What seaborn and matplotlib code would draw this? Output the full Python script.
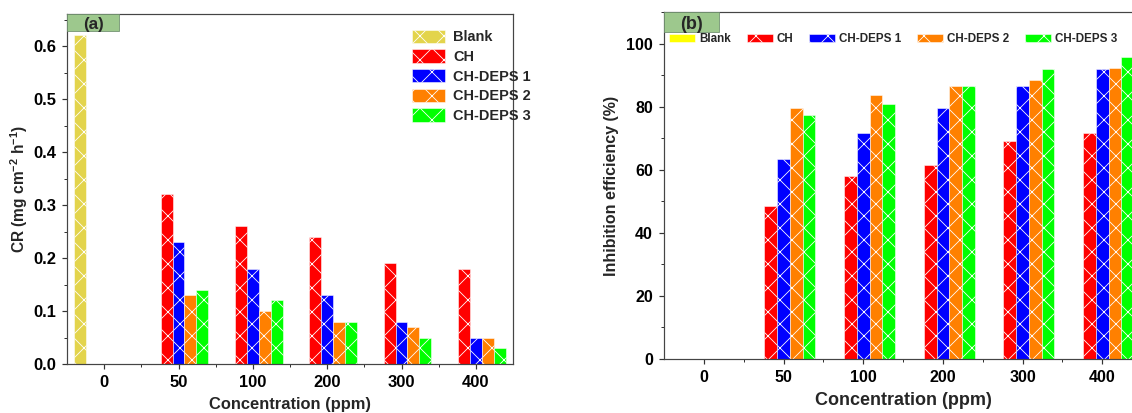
import numpy as np
import pandas as pd
import seaborn as sns
import matplotlib.pyplot as plt
from matplotlib.patches import Patch, Rectangle
from matplotlib.ticker import MultipleLocator, FormatStrFormatter

# datos
conc = ["0", "50", "100", "200", "300", "400"]
series = ["Blank", "CH", "CH-DEPS 1", "CH-DEPS 2", "CH-DEPS 3"]

cr_blank = [0.62]
cr_ch = [0.32, 0.26, 0.24, 0.19, 0.18]
cr_deps1 = [0.23, 0.18, 0.13, 0.08, 0.05]
cr_deps2 = [0.13, 0.10, 0.08, 0.07, 0.05]
cr_deps3 = [0.14, 0.12, 0.08, 0.05, 0.03]

ie_ch = [48.6, 58.1, 61.6, 69.0, 71.7]
ie_deps1 = [63.4, 71.5, 79.6, 86.4, 91.8]
ie_deps2 = [79.6, 83.6, 86.4, 88.4, 92.4]
ie_deps3 = [77.5, 81.0, 86.4, 91.8, 95.8]

colors_a = {"Blank": "#e3d44c", "CH": "#ff0000", "CH-DEPS 1": "#0000ff",
            "CH-DEPS 2": "#ff8000", "CH-DEPS 3": "#00ff00"}
colors_b = dict(colors_a, Blank="#ffff00")


def to_long(blank, ch, d1, d2, d3):
    rows = []
    for v in blank:
        rows.append({"conc": "0", "serie": "Blank", "valor": v})
    for name, vals in zip(series[1:], [ch, d1, d2, d3]):
        for c, v in zip(conc[1:], vals):
            rows.append({"conc": c, "serie": name, "valor": v})
    return pd.DataFrame(rows)


df_a = to_long(cr_blank, cr_ch, cr_deps1, cr_deps2, cr_deps3)
df_b = to_long([], ie_ch, ie_deps1, ie_deps2, ie_deps3)

sns.set_style("ticks")
plt.rcParams.update({
    "font.family": ["Liberation Sans", "DejaVu Sans"],
    "font.weight": "bold",
    "axes.labelweight": "bold",
    "mathtext.fontset": "custom",
    "mathtext.rm": "Liberation Sans:bold",
    "mathtext.bf": "Liberation Sans:bold",
    "mathtext.default": "bf",
    "hatch.color": "white",
    "hatch.linewidth": 0.8,
    "axes.edgecolor": "#444444",
    "axes.linewidth": 1.2,
    "xtick.color": "#333333",
    "ytick.color": "#333333",
    "xtick.labelcolor": "black",
    "ytick.labelcolor": "black",
})

fig = plt.figure(figsize=(1132 / 72, 413 / 72), dpi=72)
ax1 = fig.add_axes([0.0592, 0.1186, 0.394, 0.847])
ax2 = fig.add_axes([0.5866, 0.1308, 0.4223, 0.840])


def style_bars(ax):
    for p in ax.patches:
        p.set_hatch("x")
        p.set_edgecolor("white")
        p.set_linewidth(0.5)


def label_box(ax, text, w, y0, fs, ty):
    ax.add_patch(Rectangle((0, y0), w, 1 - y0, transform=ax.transAxes,
                           facecolor="#9dc88d", edgecolor="#6f8f6f", lw=0.8,
                           clip_on=False, zorder=5))
    ax.text(w / 2, ty, text, transform=ax.transAxes, ha="center", va="center",
            fontsize=fs, fontweight="bold", zorder=6)


def ticks(ax, fs):
    ax.set_xticks([0.5, 1.5, 2.5, 3.5, 4.5], minor=True)
    ax.tick_params(which="major", length=5, width=1.2, labelsize=fs, pad=6)
    ax.tick_params(which="minor", length=3, width=1.0)
    for t in ax.get_xticklabels() + ax.get_yticklabels():
        t.set_fontweight("bold")


# (a) velocidad de corrosion
sns.barplot(data=df_a, x="conc", y="valor", hue="serie", order=conc,
            hue_order=series, palette=colors_a, saturation=1, errorbar=None,
            width=0.8, legend=False, ax=ax1)
style_bars(ax1)
ax1.set_xlim(-0.5, 5.5)
ax1.set_ylim(0, 0.66)
ax1.yaxis.set_major_locator(MultipleLocator(0.1))
ax1.yaxis.set_minor_locator(MultipleLocator(0.05))
ax1.yaxis.set_major_formatter(FormatStrFormatter("%.1f"))
ticks(ax1, 16.5)
ax1.set_xlabel("Concentration (ppm)", fontsize=16.5, labelpad=7)
ax1.set_ylabel("CR (mg cm$^{-2}$ h$^{-1}$)", fontsize=15.5, labelpad=3)
h_a = [Patch(facecolor=colors_a[s], edgecolor="white", hatch="x", lw=0.5)
       for s in series]
ax1.legend(h_a, series, loc="upper left", bbox_to_anchor=(0.7735, 0.956),
           frameon=False, handlelength=2.3, handleheight=1.03,
           handletextpad=0.55, labelspacing=0.35, borderpad=0, borderaxespad=0,
           prop={"weight": "bold", "size": 14.5})
label_box(ax1, "(a)", 0.1166, 0.951, 17, 0.972)

# (b) eficiencia de inhibicion
sns.barplot(data=df_b, x="conc", y="valor", hue="serie", order=conc,
            hue_order=series, palette=colors_b, saturation=1, errorbar=None,
            width=0.8, legend=False, ax=ax2)
style_bars(ax2)
ax2.set_xlim(-0.5, 5.5)
ax2.set_ylim(0, 110)
ax2.yaxis.set_major_locator(MultipleLocator(20))
ax2.yaxis.set_minor_locator(MultipleLocator(10))
ticks(ax2, 16)
ax2.set_xlabel("Concentration (ppm)", fontsize=18, labelpad=7)
ax2.set_ylabel("Inhibition efficiency (%)", fontsize=16, labelpad=7)
h_b = [Patch(facecolor=colors_b[s], edgecolor="white",
             hatch=None if s == "Blank" else "x", lw=0.5) for s in series]
ax2.legend(h_b, series, loc="upper left", bbox_to_anchor=(0.0105, 0.94),
           ncol=5, frameon=False, handlelength=2.25, handleheight=0.7,
           handletextpad=0.35, columnspacing=1.35, borderpad=0, borderaxespad=0,
           prop={"weight": "bold", "size": 11.6})
label_box(ax2, "(b)", 0.115, 0.942, 18, 0.965)

fig.savefig("out.png", dpi=72)
